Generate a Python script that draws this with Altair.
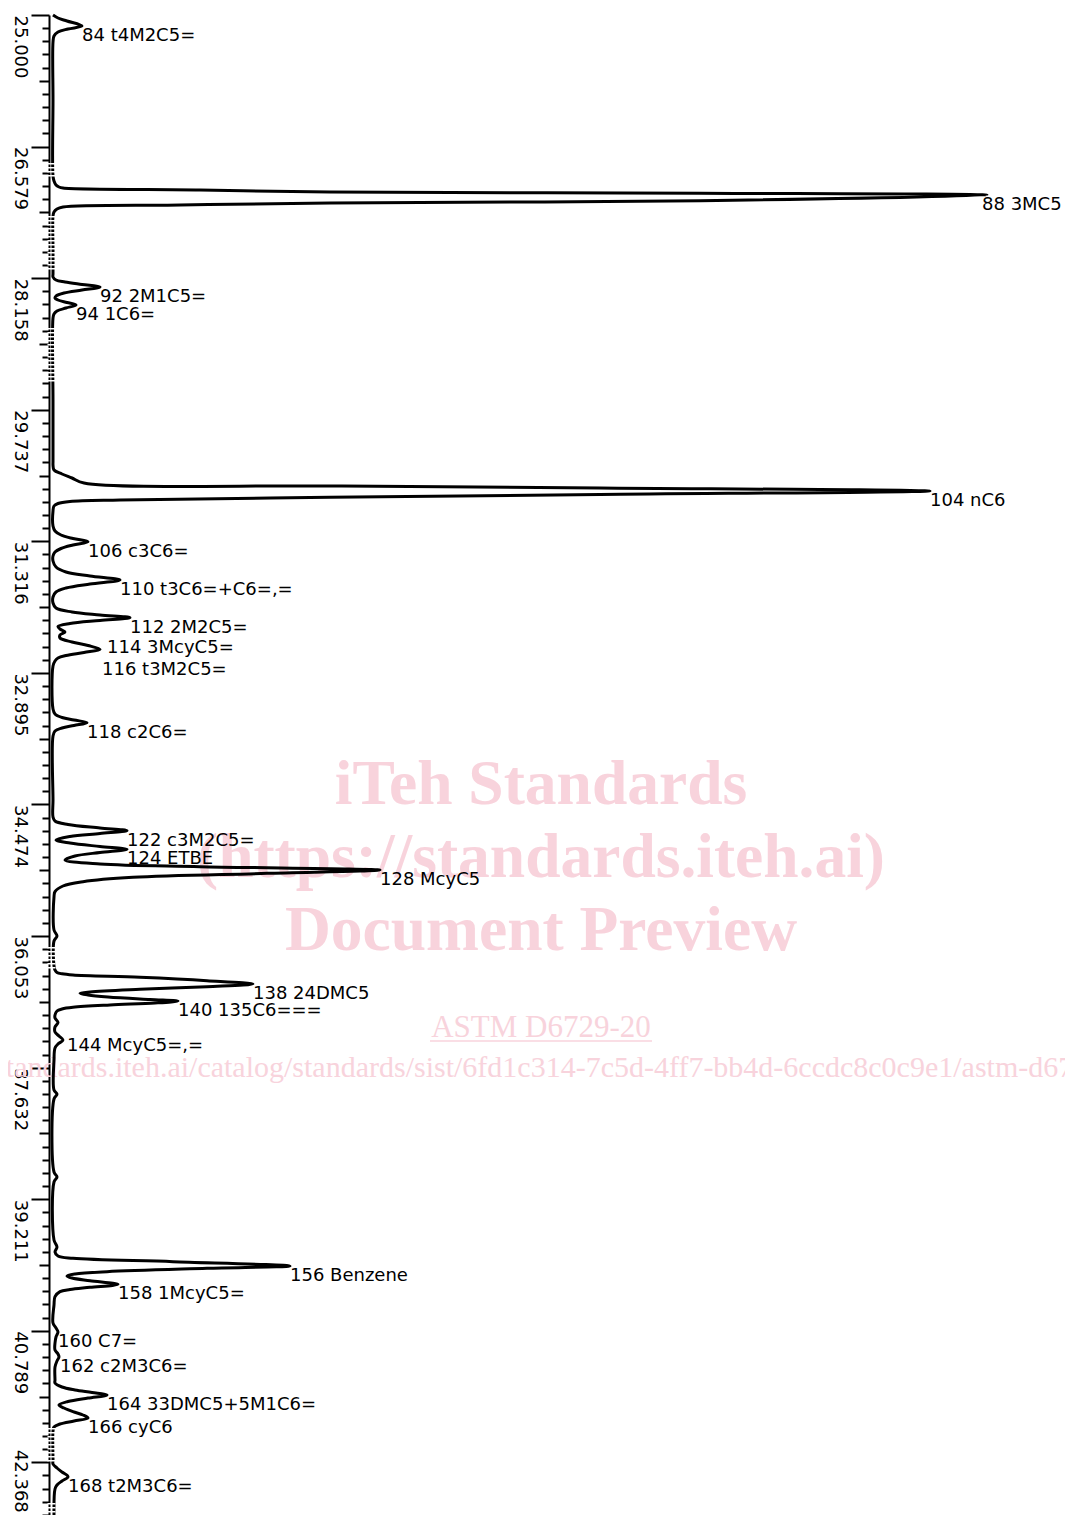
import math
import altair as alt
import pandas as pd
import numpy as np

# ---------------- data ----------------
time_min = [
    25.000, 25.036, 25.072, 25.132, 25.168, 25.204, 25.252, 25.324, 26.020, 26.932,
    26.992, 27.040, 27.064, 27.076, 27.100, 27.124, 27.138, 27.160, 27.228, 27.256,
    27.280, 27.304, 27.328, 27.364, 27.412, 27.820, 28.108,
    28.144, 28.180, 28.204, 28.234, 28.264, 28.300, 28.336, 28.372, 28.396, 28.420,
    28.450, 28.480, 28.516, 28.552, 28.588, 28.636, 29.620, 30.364,
    30.400, 30.460, 30.508, 30.556, 30.616, 30.652, 30.676, 30.712, 30.754, 30.788,
    30.820, 30.838, 30.862, 30.892, 30.952,
    31.132, 31.192, 31.240, 31.282, 31.320, 31.360, 31.402, 31.444, 31.492,
    31.552, 31.624, 31.684, 31.732, 31.780, 31.828, 31.876, 31.924, 31.984,
    32.056, 32.116, 32.164, 32.200, 32.232, 32.266, 32.302, 32.338, 32.368, 32.404,
    32.440, 32.476, 32.524, 32.566, 32.612, 32.650, 32.686, 32.716, 32.752, 32.812,
    33.328, 33.388, 33.430, 33.460, 33.492, 33.526, 33.556, 33.592, 33.652,
    34.420, 34.624, 34.672, 34.714, 34.756, 34.788, 34.822, 34.858, 34.900, 34.936,
    34.978, 35.012, 35.050, 35.092, 35.140, 35.188, 35.220, 35.260, 35.300, 35.348,
    35.400, 35.452, 35.520, 35.584, 35.980, 36.052, 36.112, 36.412,
    36.460, 36.490, 36.506, 36.520, 36.548, 36.588, 36.628, 36.660, 36.692, 36.724,
    36.740, 36.760, 36.784, 36.814, 36.832, 36.856, 36.880, 36.908, 36.928, 36.952,
    37.000, 37.036, 37.090, 37.144, 37.204, 37.252, 37.300, 37.348, 37.396, 37.540,
    37.900, 37.948, 38.008, 38.884, 38.944, 39.004, 39.700, 39.784, 39.844,
    39.892, 39.920, 39.960, 40.012, 40.040, 40.080, 40.108, 40.132, 40.156, 40.188,
    40.232, 40.268, 40.294, 40.320, 40.380, 40.480,
    40.696, 40.756, 40.804, 40.864, 40.936, 41.020, 41.068, 41.104, 41.152, 41.224,
    41.380, 41.416, 41.464, 41.500, 41.530, 41.560, 41.596, 41.638, 41.680, 41.716,
    41.764, 41.800, 41.836, 41.872, 41.908, 41.944, 41.992, 42.340,
    42.388, 42.436, 42.484, 42.540, 42.592, 42.640, 42.688, 43.000,
]
signal = [
    5, 10, 19, 34, 20, 10, 6, 5, 5, 5,
    6, 8, 11, 15, 152, 282, 652, 939, 652, 282,
    132, 15, 9, 6, 5, 5, 5,
    5, 8, 17, 34, 52, 34, 16, 8, 7, 10,
    19, 28, 18, 9, 6, 5, 5, 5,
    5, 6, 14, 24, 36, 282, 552, 882, 552, 282,
    72, 22, 10, 6, 5,
    5, 7, 13, 25, 40, 25, 13, 7, 5,
    5, 8, 18, 42, 72, 42, 18, 8, 5,
    5, 8, 24, 52, 82, 52, 22, 10, 12, 17,
    12, 12, 24, 40, 52, 36, 18, 10, 7, 5,
    5, 7, 14, 26, 39, 26, 14, 7, 5,
    5, 5, 7, 20, 52, 79, 52, 22, 8, 22,
    52, 79, 52, 27, 17, 52, 152, 332, 219, 85,
    35, 15, 7, 6, 6, 9, 6, 6,
    7, 9, 14, 25, 92, 159, 205, 159, 92, 42,
    32, 40, 60, 102, 130, 107, 62, 25, 14, 9,
    7, 7, 10, 7, 7, 11, 15, 10, 7, 6,
    6, 9, 6, 6, 9, 6, 6, 9, 7,
    10, 25, 125, 242, 159, 59, 27, 19, 24, 42,
    70, 42, 22, 12, 7, 6,
    5, 8, 10, 8, 7, 7, 10, 11, 9, 7,
    7, 7, 14, 27, 44, 59, 40, 20, 11, 16,
    26, 35, 40, 26, 12, 6, 5, 5,
    5, 9, 14, 20, 14, 9, 7, 6,
]

peak_names = [
    "84 t4M2C5=", "88 3MC5", "92 2M1C5=", "94 1C6=", "104 nC6", "106 c3C6=",
    "110 t3C6=+C6=,=", "112 2M2C5=", "114 3McyC5=", "116 t3M2C5=", "118 c2C6=",
    "122 c3M2C5=", "124 ETBE", "128 McyC5", "138 24DMC5", "140 135C6===",
    "144 McyC5=,=", "156 Benzene", "158 1McyC5=", "160 C7=", "162 c2M3C6=",
    "164 33DMC5+5M1C6=", "166 cyC6", "168 t2M3C6=",
]
label_time = [
    25.132, 27.160, 28.264, 28.480, 30.712, 31.320, 31.780, 32.232, 32.476, 32.740,
    33.492, 34.788, 35.012, 35.260, 36.628, 36.832, 37.252, 40.012, 40.232, 40.804,
    41.104, 41.560, 41.836, 42.540,
]
label_signal = [
    34, 934, 52, 28, 882, 40, 72, 82, 59, 54,
    39, 79, 79, 332, 205, 130, 19, 242, 70, 10,
    12, 59, 40, 20,
]

# stretches of baseline drawn dotted (integration baseline), start / end time
dotted_start = [26.776, 27.412, 28.756, 36.184, 41.956, 42.856]
dotted_end = [26.956, 28.084, 29.428, 36.460, 42.364, 43.000]

major_ticks = [25.000, 26.579, 28.158, 29.737, 31.316, 32.895,
               34.474, 36.053, 37.632, 39.211, 40.789, 42.368]

wm_title = ["iTeh Standards", "(https://standards.iteh.ai)", "Document Preview"]
wm_ref = "ASTM D6729-20"
wm_url = "https://standards.iteh.ai/catalog/standards/sist/6fd1c314-7c5d-4ff7-bb4d-6ccdc8c0c9e1/astm-d6729-20"

# ---------------- tick set (major + 10 subdivisions) ----------------
minor_ticks, mid_ticks = [], []
for a, b in zip(major_ticks[:-1], major_ticks[1:]):
    sub = np.linspace(a, b, 11)
    minor_ticks.extend(float(v) for v in sub[1:-1])
    mid_ticks.append(float(sub[5]))
step = (major_ticks[-1] - major_ticks[-2]) / 10
v = major_ticks[-1] + step
while v <= 43.0005:
    minor_ticks.append(v)
    v += step
tick_values = sorted(round(x, 4) for x in major_ticks + minor_ticks)


def key(x):
    return math.floor(round(x, 4) * 1000 + 0.5) / 1000


maj_list = "[" + ",".join(repr(key(x)) for x in major_ticks) + "]"
mid_list = "[" + ",".join(repr(key(x)) for x in mid_ticks) + "]"
kexpr = "round(datum.value*1000)/1000"
major_test = f"indexof({maj_list}, {kexpr}) >= 0"
mid_test = f"indexof({mid_list}, {kexpr}) >= 0"
last_test = f"{kexpr} == {key(major_ticks[-1])!r}"

trace = pd.DataFrame({"t": time_min, "s": signal})
labels = pd.DataFrame({"name": peak_names, "t": label_time, "s": label_signal})
dotted = pd.DataFrame({"t": dotted_start, "t2": dotted_end})

y_axis = alt.Axis(
    values=tick_values, orient="left", title=None, grid=False,
    domain=True, domainColor="black", domainWidth=2,
    ticks=True, tickColor="black", tickWidth=2,
    tickSize={"condition": [{"test": major_test, "value": 18},
                            {"test": mid_test, "value": 10}], "value": 7},
    labelExpr=f"{major_test} ? format(datum.value, '.3f') : ''",
    labelAngle=90, labelAlign="left", labelBaseline="top", labelPadding=2.5,
    labelOffset={"condition": {"test": last_test, "value": -13}, "value": 0},
    labelFont="DejaVu Sans", labelFontSize=18, labelColor="black",
    labelOverlap=False, labelFlush=False,
)
y_scale = alt.Scale(domain=[25, 43], reverse=True, nice=False, zero=False)
y_enc = alt.Y("t:Q", scale=y_scale, axis=y_axis)
x_enc = alt.X("s:Q", scale=alt.Scale(domain=[1, 1001], nice=False, zero=False), axis=None)

PINK = "#f8d3dc"
one = pd.DataFrame({"k": [0]})
wm_layers = []
for txt, ypos in zip(wm_title, [789, 862, 935]):
    wm_layers.append(
        alt.Chart(one).mark_text(font="Liberation Serif", fontWeight="bold", fontSize=63.5,
                                 color=PINK, align="center", baseline="alphabetic")
        .encode(x=alt.value(492), y=alt.value(ypos), text=alt.value(txt))
    )
wm_layers.append(
    alt.Chart(one).mark_text(font="Liberation Serif", fontSize=31, color=PINK,
                             align="center", baseline="alphabetic")
    .encode(x=alt.value(492), y=alt.value(1022), text=alt.value(wm_ref))
)
wm_layers.append(
    alt.Chart(one).mark_rule(color=PINK, strokeWidth=1.5)
    .encode(x=alt.value(381), x2=alt.value(603), y=alt.value(1026))
)
wm_layers.append(
    alt.Chart(one).mark_text(font="Liberation Serif", fontSize=30, color=PINK,
                             align="center", baseline="alphabetic")
    .encode(x=alt.value(478), y=alt.value(1062), text=alt.value(wm_url))
)

line = alt.Chart(trace).mark_line(
    color="black", strokeWidth=3, interpolate="catmull-rom", strokeJoin="round"
).encode(x=x_enc, y=y_enc, order=alt.Order("t:Q"))

dots = alt.Chart(dotted).mark_rule(
    color="white", strokeWidth=8, strokeDash=[1.5, 2.5]
).encode(x=alt.value(2.5), y=alt.Y("t:Q", scale=y_scale, axis=y_axis), y2="t2:Q")

text = alt.Chart(labels).mark_text(
    align="left", baseline="top", dx=0, dy=1, font="DejaVu Sans", fontSize=18, color="black"
).encode(x=x_enc, y=y_enc, text="name:N")

chart = alt.layer(*wm_layers, line, dots, text).properties(
    width=1000, height=1500,
    padding={"left": 41, "top": 7, "right": 16, "bottom": 0},
    autosize=alt.AutoSizeParams(type="none"),
    background="white",
).configure_view(stroke=None)

chart.save("out.html", embed_options={"renderer": "svg", "actions": False})
